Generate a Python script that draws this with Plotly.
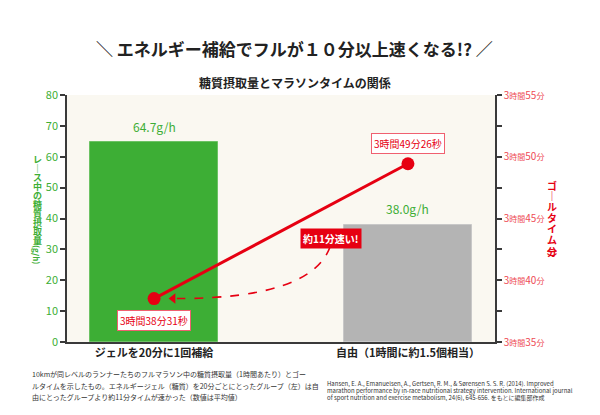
import plotly.graph_objects as go

# data
groups = ["ジェルを20分に1回補給", "自由（1時間に約1.5個相当）"]
carb_g_per_h = [64.7, 38.0]
goal_hms = [(3, 38, 31), (3, 49, 26)]
goal_labels = ["3時間38分31秒", "3時間49分26秒"]
carb_ticks = [0, 10, 20, 30, 40, 50, 60, 70, 80]
time_ticks = [215, 217.5, 220, 222.5, 225, 227.5, 230, 232.5, 235]
time_ticktext = ["3時間35分", "", "3時間40分", "", "3時間45分", "", "3時間50分", "", "3時間55分"]
gap_label = "約11分速い!"

goal_min = [h * 60 + m + s / 60 for h, m, s in goal_hms]

GREEN = "#3DAE35"
GRAY = "#B4B4B4"
RED = "#E60012"
TICK_RED = "#EE4B55"
AXIS = "#3a3a3a"
JP = "Noto Sans CJK JP"

# plot area in pixels (600x415 page)
L, R, T, B = 67, 495, 95, 342


def px(x):
    return (x - L) / (R - L)


def py(y):
    return (B - y) / (B - T)


def small_kanji(t):
    # digits bigger than the kanji like the original tick labels
    for k in ["時間", "分"]:
        t = t.replace(k, f"<span style='font-size:8px'>{k}</span>")
    return t


fig = go.Figure()

fig.add_trace(go.Bar(
    x=[0, 1], y=carb_g_per_h, width=0.504,
    marker=dict(color=[GREEN, GRAY], line=dict(color=["#6cc264", "#c8c8c8"], width=1)),
    hoverinfo="skip", showlegend=False,
))

fig.add_trace(go.Scatter(
    x=[0, 1], y=goal_min, yaxis="y2", mode="lines+markers",
    line=dict(color=RED, width=3), marker=dict(color=RED, size=13),
    showlegend=False, cliponaxis=False,
))

# dashed curved arrow from the gap label back to the gel point
gap_x, gap_y = 0.697, 223.35
fig.add_shape(
    type="path", xref="x", yref="y2",
    path=f"M 0.693,{gap_y - 0.65} Q 0.62,{goal_min[0]} 0.09,{goal_min[0]}",
    line=dict(color=RED, width=1.6, dash="dash"),
)
fig.add_trace(go.Scatter(
    x=[0.075], y=[goal_min[0]], yaxis="y2", mode="markers",
    marker=dict(symbol="triangle-left", color=RED, size=9),
    showlegend=False, hoverinfo="skip",
))

ann = []
for i, v in enumerate(carb_g_per_h):
    ann.append(dict(x=i, y=v, xref="x", yref="y", yshift=16, text=f"{v:.1f}g/h",
                    showarrow=False, font=dict(family=JP, size=12, color=GREEN)))

for i, (t, s) in enumerate(zip(goal_min, [-22, 20])):
    ann.append(dict(x=i, y=t, xref="x", yref="y2", yshift=s, text=goal_labels[i],
                    showarrow=False, bgcolor="white", bordercolor="#F06070", borderwidth=1,
                    borderpad=2, font=dict(family=JP, size=10, color=RED)))

ann.append(dict(x=gap_x, y=gap_y, xref="x", yref="y2", text=f"<b>{gap_label}</b>",
                showarrow=False, bgcolor=RED, borderpad=2,
                font=dict(family=JP, size=10, color="white")))


def paper_text(x, y, text, size, color, family=JP, xanchor="center", **kw):
    ann.append(dict(x=px(x), y=py(y), xref="paper", yref="paper", text=text,
                    xanchor=xanchor, yanchor="middle", showarrow=False,
                    font=dict(family=family, size=size, color=color), **kw))


# titles
paper_text(294, 48, "<b>＼ エネルギー補給でフルが１０分以上速くなる!? ／</b>", 17, "#222")
paper_text(295, 82, "<b>糖質摂取量とマラソンタイムの関係</b>", 12, "#222")


def vertical(chars, x, y0, step, size, color):
    for k, c in enumerate(chars):
        paper_text(x, y0 + k * step, f"<b>{c}</b>", size, color)


vertical("レ｜ス中の糖質摂取量", 37, 159, 9.1, 9, GREEN)
paper_text(37, 254, "<b>(g/h)</b>", 8, GREEN, textangle=90)
vertical("ゴ｜ルタイム", 552, 185, 10.8, 10, RED)
vertical("︵分︶", 552, 246, 5.5, 10, RED)

# footnotes
note_left = [
    "10kmが同レベルのランナーたちのフルマラソン中の糖質摂取量（1時間あたり）とゴー",
    "ルタイムを示したもの。エネルギージェル（糖質）を20分ごとにとったグループ（左）は自",
    "由にとったグループより約11分タイムが速かった（数値は平均値）",
]
for k, line in enumerate(note_left):
    paper_text(30, 374 + k * 11.5, line, 7, "#333", xanchor="left")

note_right = [
    "Hansen, E. A., Emanuelsen, A., Gertsen, R. M., & Sørensen S. S. R. (2014). Improved",
    "marathon performance by in-race nutritional strategy intervention. International journal",
    "of sport nutrition and exercise metabolism, 24(6), 645-656. をもとに編集部作成",
]
for k, line in enumerate(note_right):
    paper_text(325, 383 + k * 7.2, line, 6, "#333",
               family="Liberation Sans Narrow, Noto Sans CJK JP", xanchor="left")

fig.update_layout(
    width=600, height=415,
    margin=dict(l=L, r=600 - R, t=T, b=415 - B),
    paper_bgcolor="white", plot_bgcolor="#FAF8F1",
    font=dict(family=JP),
    showlegend=False,
    bargap=0,
    annotations=ann,
    xaxis=dict(range=[-0.343, 1.343], tickvals=[0, 1],
               ticktext=[f"<b>{g}</b>" for g in groups],
               tickfont=dict(family=JP, size=11, color="#222"),
               showline=True, linecolor=AXIS, linewidth=1.5,
               showgrid=False, zeroline=False, ticks="", automargin=False),
    yaxis=dict(range=[0, 80], tickvals=carb_ticks,
               tickfont=dict(family=JP, size=11, color=GREEN),
               showline=True, linecolor=AXIS, linewidth=1.5,
               ticks="outside", ticklen=5, tickwidth=1.5, tickcolor=AXIS,
               showgrid=False, zeroline=False, automargin=False),
    yaxis2=dict(range=[215, 235], overlaying="y", side="right",
                tickvals=time_ticks, ticktext=[small_kanji(t) for t in time_ticktext],
                tickfont=dict(family=JP, size=10, color=TICK_RED),
                showline=True, linecolor=AXIS, linewidth=1.5,
                ticks="outside", ticklen=5, tickwidth=1.5, tickcolor=AXIS,
                showgrid=False, zeroline=False, automargin=False),
)

# the browser's default 8px body margin would shift the whole figure
fig.write_html("out.html", config={"displayModeBar": False},
               post_script="document.body.style.margin = '0';")
